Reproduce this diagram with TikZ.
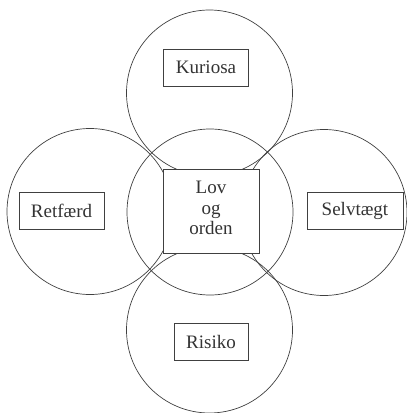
\documentclass[tikz,border=0pt]{standalone}
\usepackage{fontspec}
\setmainfont{Liberation Serif}
\usepackage{tikz}
\usetikzlibrary{positioning}

\begin{document}
\begin{tikzpicture}[
    x=1pt, y=-1pt,
    % Node styles
    area/.style={circle, draw=black!75, line width=0.7pt, minimum size=166pt, inner sep=0pt},
    label box/.style={rectangle, draw=black!75, line width=0.7pt, fill=white, minimum height=37pt, inner xsep=12pt, font=\fontsize{19}{21}\selectfont, text=black!80},
    core box/.style={rectangle, draw=black!75, line width=0.7pt, fill=white, minimum width=96pt, minimum height=84pt, align=center, text depth=6pt, font=\fontsize{19}{20.5}\selectfont, text=black!80},
]

% Picture frame
\useasboundingbox (0,0) rectangle (407,413);

% Circles
\node[area] (c-top) at (209.5,93) {};
\node[area] (c-left) at (90,211.5) {};
\node[area] (c-right) at (324,212.5) {};
\node[area] (c-bottom) at (209.5,330) {};
\node[area] (c-mid) at (210,212) {};

% Labels in the outer circles
\node[label box, minimum width=85pt] (kuriosa) at (206,67.5) {Kuriosa};
\node[label box, minimum width=85pt] (retfaerd) at (61.5,210.5) {Retfærd};
\node[label box, minimum width=96pt] (selvtaegt) at (355,211) {Selvtægt};
\node[label box, minimum width=74pt] (risiko) at (211,342) {Risiko};

% Centre box
\node[core box] (lov) at (211,211) {Lov\\og\\orden};

\end{tikzpicture}
\end{document}
